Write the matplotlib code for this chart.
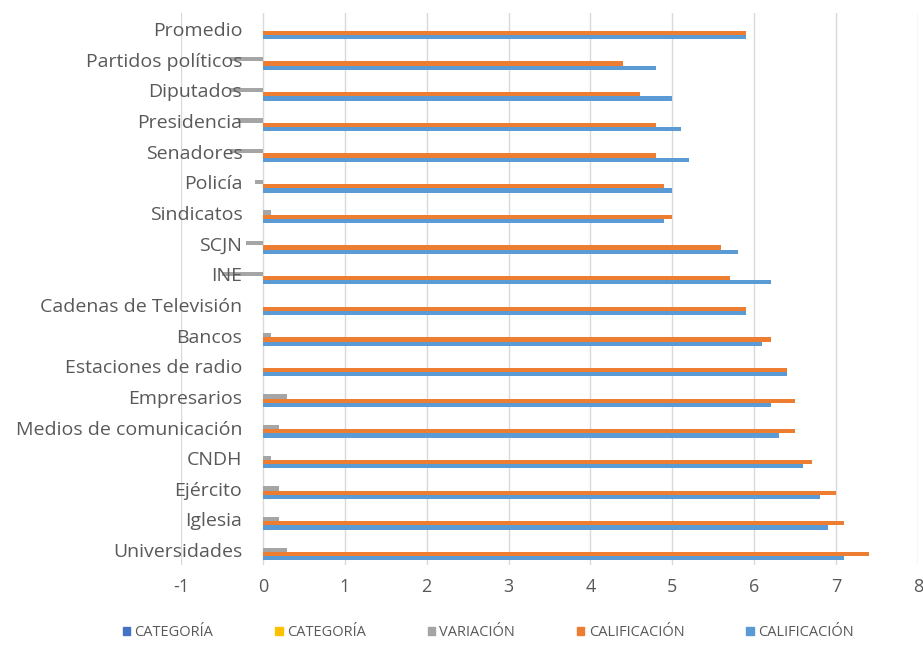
import numpy as np
import matplotlib.pyplot as plt
from matplotlib.patches import Patch

# Instituciones, de abajo hacia arriba
instituciones = ['Universidades', 'Iglesia', 'Ejército', 'CNDH',
                 'Medios de comunicación', 'Empresarios', 'Estaciones de radio',
                 'Bancos', 'Cadenas de Televisión', 'INE', 'SCJN', 'Sindicatos',
                 'Policía', 'Senadores', 'Presidencia', 'Diputados',
                 'Partidos políticos', 'Promedio']

calif_actual = [7.4, 7.1, 7.0, 6.7, 6.5, 6.5, 6.4, 6.2, 5.9, 5.7, 5.6, 5.0,
                4.9, 4.8, 4.8, 4.6, 4.4, 5.9]
calif_previa = [7.1, 6.9, 6.8, 6.6, 6.3, 6.2, 6.4, 6.1, 5.9, 6.2, 5.8, 4.9,
                5.0, 5.2, 5.1, 5.0, 4.8, 5.9]
variacion = [0.3, 0.2, 0.2, 0.1, 0.2, 0.3, 0.0, 0.1, 0.0, -0.5, -0.2, 0.1,
             -0.1, -0.4, -0.3, -0.4, -0.4, 0.0]
categoria = [0] * len(instituciones)

series = [('CATEGORÍA', categoria, '#4472C4'),
          ('CATEGORÍA', categoria, '#FFC000'),
          ('VARIACIÓN', variacion, '#A5A5A5'),
          ('CALIFICACIÓN', calif_actual, '#ED7D31'),
          ('CALIFICACIÓN', calif_previa, '#5B9BD5')]

plt.rcParams['font.family'] = ['Open Sans', 'DejaVu Sans']
plt.rcParams['axes.unicode_minus'] = False
gris = '#595959'

fig = plt.figure(figsize=(9.23, 6.57), dpi=100)
ax = fig.add_axes([0.196, 0.140, 0.7986, 0.840])

y = np.arange(len(instituciones))
alto = 0.14
desp = [0.28, 0.14, 0.0, -0.14, -0.28]
for (nombre, vals, color), d in zip(series, desp):
    ax.barh(y + d, vals, height=alto, color=color, zorder=2)

for yi, nom in zip(y, instituciones):
    ax.text(-0.25, yi - 0.08, nom, ha='right', va='center', fontsize=14,
            color=gris, zorder=3)

ax.set_xlim(-1, 8)
ax.set_ylim(-0.5, len(instituciones) - 0.5)
ax.set_xticks(range(-1, 9))
ax.set_yticks([])
ax.tick_params(axis='x', length=0, labelsize=13, labelcolor=gris, pad=9)
ax.grid(axis='x', color='#D9D9D9', linewidth=1, zorder=0)
for s in ax.spines.values():
    s.set_visible(False)

handles = [Patch(color=c, label=n) for n, _, c in series]
fig.legend(handles=handles, loc='center', bbox_to_anchor=(0.529, 0.037),
           ncol=5, frameon=False, fontsize=10.5, labelcolor=gris,
           handlelength=0.5, handleheight=0.5, handletextpad=0.3,
           columnspacing=4.25)

fig.savefig('out.png', dpi=100)
